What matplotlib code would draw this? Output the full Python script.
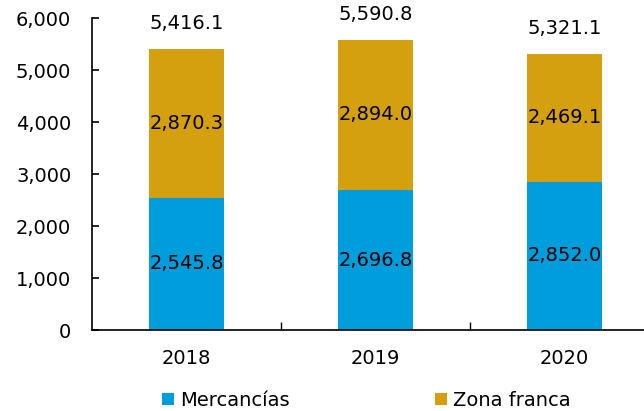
import matplotlib.pyplot as plt

anios = ['2018', '2019', '2020']
mercancias = [2545.8, 2696.8, 2852.0]
zona_franca = [2870.3, 2894.0, 2469.1]
totales = [5416.1, 5590.8, 5321.1]

azul = '#009DDC'
oro = '#D4A010'

plt.rcParams['font.family'] = ['DejaVu Sans']

fig = plt.figure(figsize=(6.44, 4.11), dpi=100)
ax = fig.add_axes([0.143, 0.197, 0.857, 0.758])

x = range(len(anios))
b1 = ax.bar(x, mercancias, width=0.4, color=azul, label='Mercancías')
b2 = ax.bar(x, zona_franca, width=0.4, bottom=mercancias, color=oro, label='Zona franca')

for i in x:
    ax.text(i, mercancias[i] / 2, f'{mercancias[i]:,.1f}', ha='center', va='center', fontsize=14)
    ax.text(i, mercancias[i] + zona_franca[i] / 2, f'{zona_franca[i]:,.1f}', ha='center', va='center', fontsize=14)
    ax.annotate(f'{totales[i]:,.1f}', (i, totales[i]), xytext=(0, 18), textcoords='offset points',
                ha='center', va='center', fontsize=14)

ax.set_ylim(0, 6000)
ax.set_xlim(-0.5, 2.42)
ax.set_yticks(range(0, 6001, 1000))
ax.set_yticklabels([f'{v:,}' for v in range(0, 6001, 1000)], fontsize=14)
ax.tick_params(axis='y', direction='in', length=5, width=1.2, pad=15)

ax.set_xticks([0.5, 1.5])
ax.set_xticklabels([])
ax.tick_params(axis='x', direction='in', length=6, width=1)
ax.set_xticks(list(x), minor=True)
ax.set_xticklabels(anios, minor=True, fontsize=14)
ax.tick_params(axis='x', which='minor', length=0, pad=14)

for s in ['top', 'right']:
    ax.spines[s].set_visible(False)
ax.spines['left'].set_linewidth(1.2)
ax.spines['bottom'].set_linewidth(1.2)

fig.legend(handles=[b1, b2], loc='lower left', bbox_to_anchor=(0.225, -0.04), ncol=2, frameon=False,
           fontsize=14, handlelength=0.6, handleheight=0.6, handletextpad=0.3, columnspacing=7.5)

plt.savefig('out.png', dpi=100)
